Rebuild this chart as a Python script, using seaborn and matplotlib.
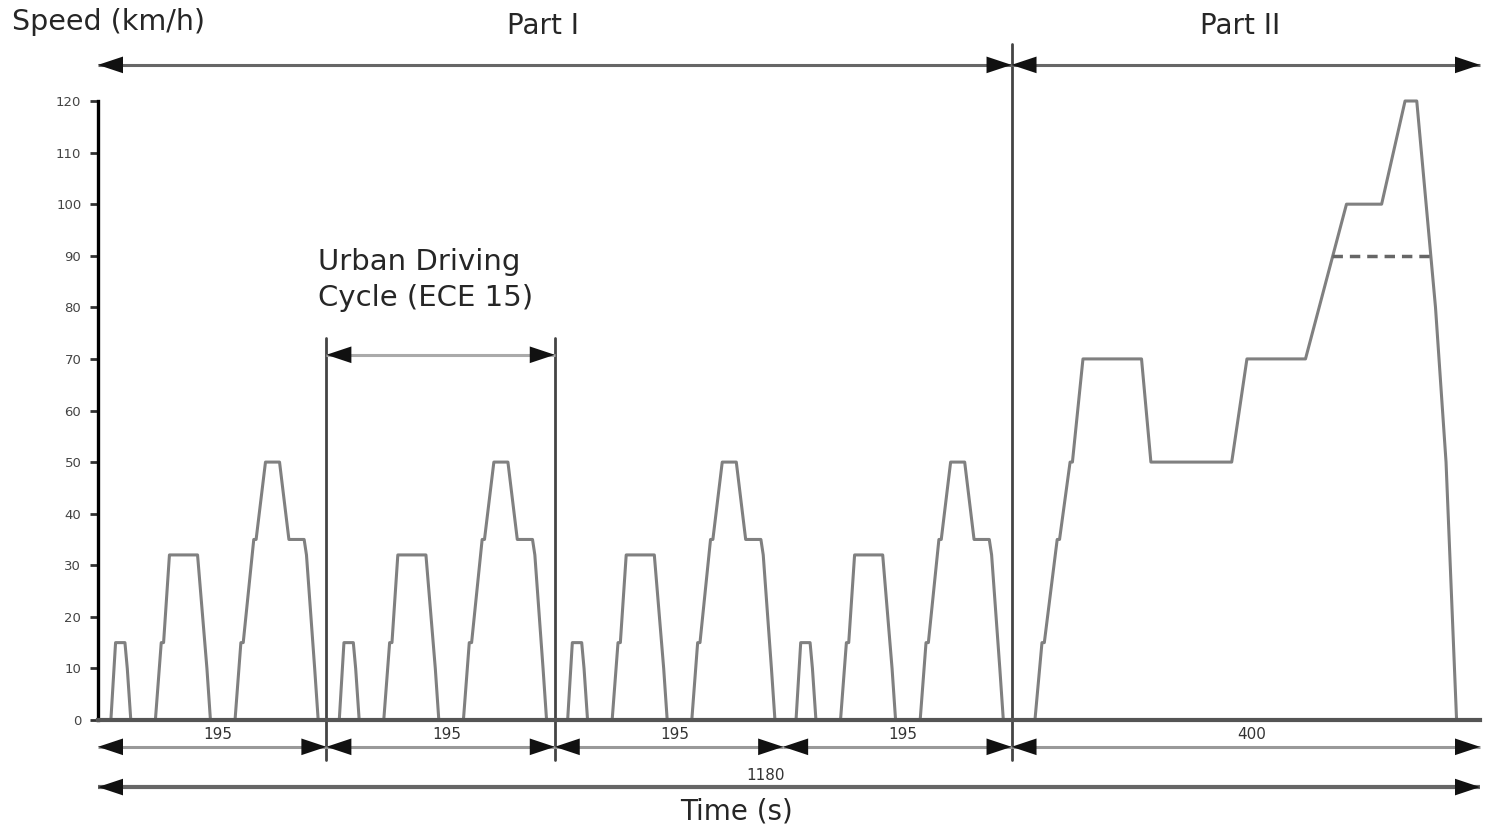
import pandas as pd
import matplotlib
matplotlib.use("Agg")
import matplotlib.pyplot as plt
import seaborn as sns

# --- Data (NEDC: 4 x ECE 15 + EUDC) ---
# one urban cycle (ECE 15), time in s from cycle start, speed in km/h
ece_time = [0, 11, 15, 23, 25, 28, 49, 54, 56, 61, 85, 93, 96, 117, 122, 124,
            133, 135, 143, 155, 163, 176, 178, 185, 188, 195]
ece_speed = [0, 0, 15, 15, 10, 0, 0, 15, 15, 32, 32, 10, 0, 0, 15, 15,
             35, 35, 50, 50, 35, 35, 32, 10, 0, 0]
cycle_starts = [0, 195, 390, 585]

# extra-urban part (Part II), time from its start
eudc_start = 780
eudc_time = [0, 20, 26, 28, 39, 41, 50, 52, 61, 111, 119, 188, 201, 251,
             286, 316, 336, 346, 362, 371, 380, 400]
eudc_speed = [0, 0, 15, 15, 35, 35, 50, 50, 70, 70, 50, 50, 70, 70,
              100, 100, 120, 120, 80, 50, 0, 0]

# dashed 90 km/h limit for low powered vehicles
limit_time = [1054, 1138]
limit_speed = [90, 90]

segment_edges = [0, 195, 390, 585, 780, 1180]
segment_labels = ["195", "195", "195", "195", "400"]
total_time = 1180

# build one table for the speed trace
rows = []
for start in cycle_starts:
    for t, v in zip(ece_time, ece_speed):
        rows.append((start + t, v))
for t, v in zip(eudc_time, eudc_speed):
    rows.append((eudc_start + t, v))
df = pd.DataFrame(rows, columns=["time", "speed"])

sns.set_style("white")
plt.rcParams["font.family"] = ["DejaVu Sans"]

W, H = 1491, 826
fig = plt.figure(figsize=(W / 100, H / 100), dpi=100)
ax = fig.add_axes([98 / W, 106 / H, 1382 / W, 619 / H])

sns.lineplot(data=df, x="time", y="speed", sort=False, estimator=None,
             color="#808080", lw=2.2, ax=ax, clip_on=False)
sns.lineplot(x=limit_time, y=limit_speed, color="#666666", lw=2.5,
             linestyle=(0, (3, 2)), ax=ax)

ax.set_xlim(0, total_time)
ax.set_ylim(0, 120)
ax.set_xticks([])
ax.set_yticks(range(0, 121, 10))
ax.set_xlabel("")
ax.set_ylabel("")
ax.tick_params(axis="y", left=True, length=6, width=2, color="#333333",
               labelsize=9.5, labelcolor="#444444", pad=6)
for s in ["top", "right"]:
    ax.spines[s].set_visible(False)
ax.spines["left"].set_color("black")
ax.spines["left"].set_linewidth(2.4)
ax.spines["left"].set_bounds(0, 120)
ax.spines["bottom"].set_color("#555555")
ax.spines["bottom"].set_linewidth(3)


def span_arrow(t0, t1, v, color="#888888", lw=2.2):
    ax.plot([t0, t1], [v, v], color=color, lw=lw, clip_on=False,
            solid_capstyle="butt")
    ax.annotate("", xy=(t1, v), xytext=(t0, v), annotation_clip=False,
                arrowprops=dict(arrowstyle="<|-|>,head_length=0.6,head_width=0.2",
                                mutation_scale=30, color="#111111", lw=0,
                                shrinkA=0, shrinkB=0))


def divider(t, v0, v1):
    ax.plot([t, t], [v0, v1], color="#444444", lw=2, clip_on=False)


# Part I / Part II
divider(eudc_start, -7.8, 131)
span_arrow(0, eudc_start, 127, color="#666666")
span_arrow(eudc_start, total_time, 127, color="#666666")
ax.text(380, 134.5, "Part I", ha="center", va="center", fontsize=20)
ax.text(975, 134.5, "Part II", ha="center", va="center", fontsize=20)
fig.text(12 / W, 1 - 22 / H, "Speed (km/h)", ha="left", va="center", fontsize=20.5)

# urban cycle marker
divider(195, -7.8, 74)
divider(390, -7.8, 74)
span_arrow(195, 390, 70.8, color="#aaaaaa")
ax.text(188, 88.8, "Urban Driving", ha="left", va="center", fontsize=21)
ax.text(188, 81.8, "Cycle (ECE 15)", ha="left", va="center", fontsize=21)

# segment arrows below the axis
for a, b, lab in zip(segment_edges[:-1], segment_edges[1:], segment_labels):
    span_arrow(a, b, -5.2, color="#999999")
    ax.text((a + b) / 2 + 5, -2.9, lab, ha="center", va="center",
            fontsize=11, color="#333333")

span_arrow(0, total_time, -13, color="#666666", lw=3)
ax.text(570, -10.7, str(total_time), ha="center", va="center",
        fontsize=11, color="#333333")
ax.text(545, -17.8, "Time (s)", ha="center", va="center", fontsize=20)

fig.savefig("out.png", dpi=100, facecolor="white")
